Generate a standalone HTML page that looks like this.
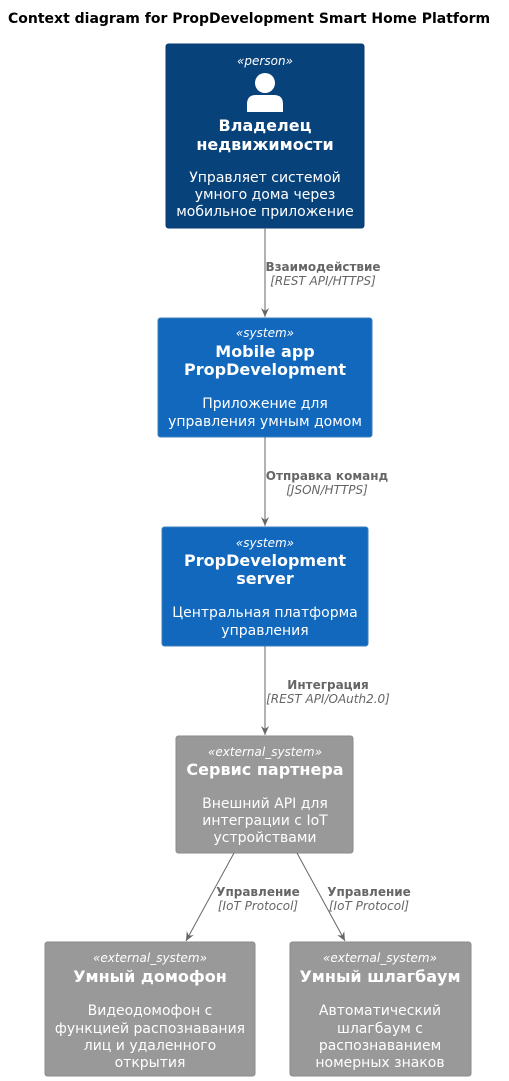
<!DOCTYPE html>
<html><head><meta charset="utf-8"><style>
html,body{margin:0;padding:0;background:#fff;}
svg{display:block;font-family:"DejaVu Sans","Liberation Sans",sans-serif;}
.st{font-size:12px;font-style:italic;fill:#fff;text-anchor:middle}
.t{font-size:16px;font-weight:bold;fill:#fff;text-anchor:middle}
.d{font-size:14px;fill:#fff;text-anchor:middle}
.el{font-size:12px;font-weight:bold;fill:#666;text-anchor:middle}
.ei{font-size:12px;font-style:italic;fill:#666;text-anchor:middle}
</style></head><body>
<svg width="509" height="1081" viewBox="0 0 509 1081">
<defs><marker id="a" markerWidth="10" markerHeight="10" refX="9" refY="5" orient="auto" markerUnits="userSpaceOnUse"><path d="M0,1 L9,5 L0,9 L3,5 Z" fill="#666"/></marker></defs>
<text x="8" y="23" font-size="14" font-weight="bold" fill="#000">Context diagram for PropDevelopment Smart Home Platform</text>

<rect x="166" y="44" width="198" height="184" rx="2.5" fill="#08427B" stroke="#073B6F"/>
<text class="st" x="265" y="65">«person»</text>
<circle cx="265" cy="83" r="10" fill="#fff"/>
<path d="M247,112 L247,104 Q247,95 256,95 L274,95 Q283,95 283,104 L283,112 Z" fill="#fff"/>
<text class="t" x="265" y="131">Владелец</text>
<text class="t" x="265" y="150">недвижимости</text>
<text class="d" x="265" y="182">Управляет системой</text>
<text class="d" x="265" y="199">умного дома через</text>
<text class="d" x="265" y="216">мобильное приложение</text>

<rect x="158" y="318" width="214" height="119" rx="2.5" fill="#1168BD" stroke="#3C7FC0"/>
<text class="st" x="265" y="337">«system»</text>
<text class="t" x="265" y="357">Mobile app</text>
<text class="t" x="265" y="375">PropDevelopment</text>
<text class="d" x="265" y="408">Приложение для</text>
<text class="d" x="265" y="426">управления умным домом</text>

<rect x="162" y="527" width="206" height="119" rx="2.5" fill="#1168BD" stroke="#3C7FC0"/>
<text class="st" x="265" y="547">«system»</text>
<text class="t" x="265" y="566">PropDevelopment</text>
<text class="t" x="265" y="584">server</text>
<text class="d" x="265" y="617">Центральная платформа</text>
<text class="d" x="265" y="635">управления</text>

<rect x="176" y="736" width="177" height="117" rx="2.5" fill="#999999" stroke="#8A8A8A"/>
<text class="st" x="265" y="756">«external_system»</text>
<text class="t" x="265" y="775">Сервис партнера</text>
<text class="d" x="265" y="808">Внешний API для</text>
<text class="d" x="265" y="825">интеграции с IoT</text>
<text class="d" x="265" y="842">устройствами</text>

<rect x="45" y="942" width="210" height="134" rx="2.5" fill="#999999" stroke="#8A8A8A"/>
<text class="st" x="150" y="962">«external_system»</text>
<text class="t" x="150" y="982">Умный домофон</text>
<text class="d" x="150" y="1015">Видеодомофон с</text>
<text class="d" x="150" y="1033">функцией распознавания</text>
<text class="d" x="150" y="1050">лиц и удаленного</text>
<text class="d" x="150" y="1067">открытия</text>

<rect x="290" y="942" width="181" height="134" rx="2.5" fill="#999999" stroke="#8A8A8A"/>
<text class="st" x="380" y="962">«external_system»</text>
<text class="t" x="380" y="982">Умный шлагбаум</text>
<text class="d" x="380" y="1015">Автоматический</text>
<text class="d" x="380" y="1033">шлагбаум с</text>
<text class="d" x="380" y="1050">распознаванием</text>
<text class="d" x="380" y="1067">номерных знаков</text>

<g stroke="#666" stroke-width="1" fill="none">
<line x1="265" y1="228" x2="265" y2="317" marker-end="url(#a)"/>
<line x1="265" y1="437" x2="265" y2="526" marker-end="url(#a)"/>
<line x1="265" y1="646" x2="265" y2="735" marker-end="url(#a)"/>
<line x1="234" y1="853" x2="186" y2="941" marker-end="url(#a)"/>
<line x1="297" y1="853" x2="345" y2="941" marker-end="url(#a)"/>
</g>
<text class="el" x="323" y="271">Взаимодействие</text>
<text class="ei" x="323" y="285">[REST API/HTTPS]</text>
<text class="el" x="327" y="480">Отправка команд</text>
<text class="ei" x="327" y="494">[JSON/HTTPS]</text>
<text class="el" x="328" y="689">Интеграция</text>
<text class="ei" x="328" y="703">[REST API/OAuth2.0]</text>
<text class="el" x="258" y="896">Управление</text>
<text class="ei" x="258" y="910">[IoT Protocol]</text>
<text class="el" x="369" y="896">Управление</text>
<text class="ei" x="369" y="910">[IoT Protocol]</text>
</svg>
</body></html>
